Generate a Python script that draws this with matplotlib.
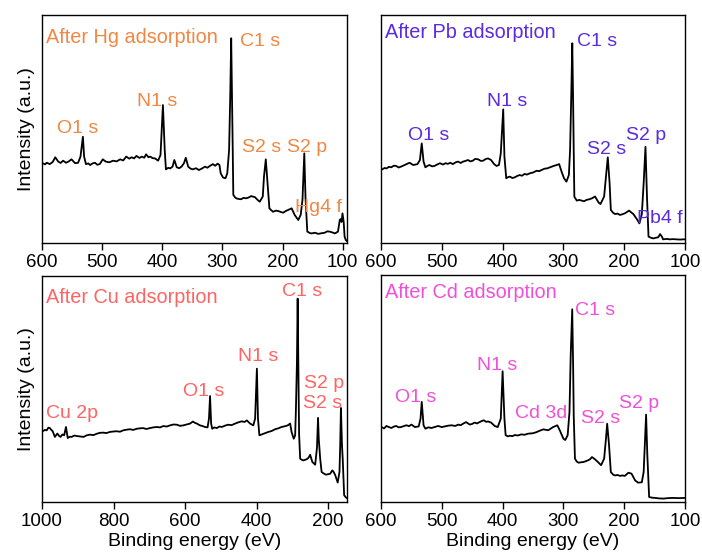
import matplotlib
matplotlib.use("Agg")
import matplotlib.pyplot as plt

plt.rcParams["font.family"] = ["Liberation Sans", "DejaVu Sans"]

# XPS survey spectra (binding energy in eV, intensity in a.u.)
hg_ev = [599, 595, 592, 587, 582, 578, 573, 569, 565, 560, 556, 551, 545, 540, 536, 532, 530, 527, 523, 520,
         516, 512, 508, 504, 499, 494, 488, 482, 476, 470, 465, 460, 455, 451, 447, 443, 438, 434, 430, 427,
         423, 420, 416, 412, 407, 403, 399, 396, 394, 390, 387, 383, 380, 376, 372, 368, 364, 361, 357, 353,
         349, 344, 339, 334, 329, 325, 321, 316, 312, 308, 305, 303, 299, 295, 292, 289, 287, 285.5, 284, 283,
         282, 279, 277, 273, 269, 265, 261, 257, 252, 249, 246, 242, 238, 233, 231, 228, 225, 222, 219,
         216, 211, 207, 203, 199, 195, 191, 185, 180, 174, 170, 167, 164, 162, 159, 155, 152, 146, 141, 135,
         130, 126, 122, 117, 113, 108, 105, 103.5, 102, 100.5, 98.5, 97, 95, 93]
hg_int = [35.0, 34.5, 35.2, 34.6, 35.6, 37.6, 35.7, 35.1, 36.1, 35.2, 35.7, 36.7, 35.0, 35.2, 37.9, 46.6, 37.9, 34.6, 34.9, 34.2,
          34.9, 35.2, 34.3, 34.6, 36.7, 35.7, 35.4, 36.1, 35.8, 36.7, 36.2, 37.9, 37.0, 37.6, 37.1, 38.2, 37.3, 37.9, 37.4, 38.9,
          37.6, 37.9, 37.2, 37.1, 36.1, 38.6, 60.5, 40.8, 32.3, 33.0, 32.7, 33.5, 36.4, 33.2, 32.8, 33.5, 35.0, 37.4, 33.5, 32.6,
          32.3, 32.8, 32.0, 32.7, 33.5, 33.0, 33.8, 34.6, 33.9, 34.8, 34.2, 30.6, 28.7, 28.4, 30.6, 40.8, 65.6, 89.8, 62.0, 42.0,
          21.1, 20.0, 19.6, 19.3, 19.2, 19.8, 19.6, 19.9, 20.6, 20.3, 20.1, 19.0, 18.1, 20.4, 29.1, 36.7, 26.2, 15.2, 14.4,
          13.7, 14.2, 14.0, 13.6, 13.3, 14.0, 14.5, 15.2, 12.3, 10.1, 12.3, 18.9, 39.3, 20.0, 5.0, 4.4, 4.2, 4.5, 4.0, 4.3,
          4.5, 5.1, 5.0, 4.6, 4.2, 5.0, 10.1, 10.5, 9.2, 13.0, 9.2, 2.8, 1.3, 0.8]

pb_ev = [598, 594, 591, 587, 583, 579, 575, 571, 567, 562, 558, 553, 547, 540, 536, 533, 530, 527, 523, 520,
         516, 512, 507, 503, 498, 494, 490, 486, 482, 477, 473, 469, 465, 461, 457, 453, 449, 445, 440, 436,
         432, 428, 424, 419, 414, 410, 406, 403, 399, 397, 394, 391, 388, 384, 380, 376, 372, 368, 364, 360,
         355, 350, 344, 340, 336, 331, 327, 323, 319, 315, 311, 307, 303, 299, 295, 291, 289, 287, 285.4, 284,
         283, 282, 278, 274, 270, 266, 262, 257, 253, 248, 242, 239, 233, 230, 227, 224, 222, 218, 215, 211,
         207, 203, 199, 192, 185, 179, 175, 171, 168, 165, 162.5, 160, 156, 152, 148, 144, 141, 138, 136, 130,
         125, 120, 114, 108, 103, 100]
pb_int = [32.3, 32.9, 32.7, 33.4, 33.2, 33.9, 33.8, 33.1, 33.5, 34.1, 34.6, 35.2, 34.2, 34.6, 36.4, 43.7, 35.7, 33.2, 33.9, 34.2,
          33.6, 33.8, 34.5, 35.0, 34.4, 35.0, 34.7, 35.2, 34.6, 35.4, 35.7, 35.1, 35.7, 36.0, 36.4, 35.8, 36.1, 36.9, 36.7, 36.0,
          36.1, 36.8, 37.1, 36.4, 34.6, 33.8, 34.2, 39.3, 58.6, 37.9, 28.4, 28.9, 29.1, 28.5, 28.8, 29.4, 29.8, 29.5, 30.3, 30.0,
          30.6, 30.9, 31.7, 31.5, 32.0, 32.6, 32.7, 33.1, 33.5, 33.9, 34.2, 34.6, 31.3, 28.4, 26.9, 29.8, 40.8, 65.6, 87.6, 62.0,
          40.0, 20.3, 18.6, 18.9, 18.6, 18.3, 18.9, 19.2, 19.6, 20.4, 17.7, 17.1, 20.4, 29.1, 37.6, 26.2, 14.5, 13.2, 12.7, 12.9,
          12.3, 12.6, 13.0, 14.2, 12.7, 10.4, 8.6, 12.7, 26.2, 42.2, 20.0, 2.8, 2.3, 2.0, 2.3, 2.5, 3.9, 2.8, 1.6, 1.8,
          1.6, 1.7, 1.6, 1.5, 1.6, 1.6]

cu_ev = [998, 992, 987, 982, 978, 974, 970, 964, 957, 952, 948, 943, 938, 933, 928, 922, 917, 910, 903, 894,
         884, 875, 866, 856, 847, 838, 829, 820, 810, 800, 791, 782, 773, 763, 754, 745, 735, 726, 717, 708,
         698, 689, 679, 670, 661, 651, 642, 632, 623, 614, 605, 595, 586, 578, 572, 567, 558, 551, 544, 537,
         533, 530, 527, 524, 518, 511, 504, 497, 488, 479, 470, 460, 450, 441, 434, 427, 418, 409, 404, 399,
         396, 392, 387, 381, 374, 367, 358, 348, 339, 330, 321, 313, 306, 302, 296, 292, 290, 287, 285, 283,
         281, 278, 274, 269, 265, 260, 255, 250, 244, 236, 231, 228, 226, 222, 218, 212, 206, 200, 194, 188,
         184, 180, 173, 168, 166, 164, 161, 159, 155, 150, 148]
cu_int = [31.3, 31.9, 31.7, 32.9, 32.7, 31.9, 31.3, 28.8, 30.3, 29.2, 28.8, 29.9, 29.5, 33.2, 28.3, 28.9, 28.8, 29.4, 29.2, 29.0,
          28.8, 29.5, 29.8, 29.6, 30.2, 30.6, 30.7, 30.5, 31.0, 31.2, 31.3, 31.1, 31.7, 32.0, 32.2, 31.9, 32.4, 32.6, 32.7, 32.3,
          32.7, 33.0, 33.2, 33.0, 33.6, 33.4, 33.9, 34.3, 34.2, 33.7, 33.9, 34.3, 34.7, 35.6, 35.0, 34.7, 33.9, 33.6, 33.2, 33.0,
          36.9, 46.9, 34.7, 32.4, 33.0, 32.7, 33.4, 33.2, 33.8, 34.2, 34.0, 34.7, 35.3, 35.7, 35.4, 36.1, 34.7, 33.9, 36.9, 59.0,
          36.9, 29.5, 29.8, 30.2, 30.6, 31.0, 31.4, 32.2, 32.6, 33.2, 33.5, 33.9, 34.7, 31.0, 28.0, 29.5, 40.0, 62.0, 90.0, 60.0,
          30.0, 19.2, 18.7, 18.4, 18.6, 18.9, 19.5, 20.9, 17.7, 16.5, 24.0, 37.2, 28.0, 19.2, 13.3, 12.6, 12.1, 12.3, 12.5, 14.0,
          13.2, 11.9, 8.6, 13.3, 25.0, 41.6, 25.0, 19.2, 3.0, 2.0, 1.8]

cd_ev = [599, 595, 591, 587, 583, 579, 575, 571, 567, 562, 558, 554, 550, 544, 538, 535, 533, 530, 527, 522,
         517, 512, 506, 500, 495, 490, 484, 478, 473, 469, 465, 460, 454, 450, 446, 442, 438, 434, 431, 427,
         424, 419, 413, 408, 403, 400, 397, 395, 391, 388, 384, 380, 375, 369, 364, 358, 350, 344, 338, 333,
         325, 317, 310, 306, 300, 297, 293, 290, 288, 285.5, 284, 283, 281, 278, 275, 271, 267, 263, 259, 256,
         253, 248, 242, 238, 233, 230, 228, 225, 222, 218, 215, 211, 207, 203, 199, 193, 188, 182, 177, 171,
         168, 164, 162, 159, 154, 149, 143, 136, 128, 120, 110, 100]
cd_int = [33.0, 32.4, 33.5, 33.0, 32.6, 33.2, 33.5, 32.9, 33.0, 33.5, 33.8, 33.4, 34.1, 33.0, 33.3, 36.7, 44.1, 33.8, 32.3, 32.9,
          32.6, 33.0, 33.5, 33.0, 33.3, 33.6, 33.8, 33.5, 34.1, 33.8, 34.5, 35.2, 34.1, 34.4, 35.0, 34.6, 35.2, 35.7, 36.0, 35.3,
          35.5, 35.0, 33.5, 33.0, 36.7, 57.6, 36.7, 29.4, 28.9, 29.2, 29.0, 29.5, 29.3, 29.8, 29.6, 30.1, 30.3, 30.8, 31.5, 32.0,
          31.6, 33.0, 33.8, 31.6, 27.9, 27.3, 29.4, 39.6, 64.6, 84.9, 60.0, 38.0, 19.1, 17.8, 17.3, 17.5, 17.6, 18.0, 18.4, 18.9,
          19.8, 18.8, 17.3, 16.2, 19.1, 27.9, 34.5, 25.3, 13.2, 12.0, 11.7, 11.9, 11.5, 11.7, 11.5, 12.9, 12.5, 9.5, 8.5, 8.7,
          13.2, 38.5, 21.0, 2.2, 1.9, 1.8, 1.6, 1.5, 1.7, 1.8, 1.7, 1.8]

# peak assignments: (text, binding energy, height)
hg_labels = [("O1 s", 575, 48.1), ("N1 s", 442, 60.1), ("C1 s", 271, 86.5),
             ("S2 s", 268, 40.0), ("S2 p", 193, 40.0), ("Hg4 f", 180, 13.7)]
pb_labels = [("O1 s", 556, 45.2), ("N1 s", 426, 60.1), ("C1 s", 278, 86.5),
             ("S2 s", 261, 38.9), ("S2 p", 197, 45.2), ("Pb4 f", 179, 8.9)]
cu_labels = [("Cu 2p", 990, 37.0), ("O1 s", 606, 46.9), ("N1 s", 452, 62.5),
             ("C1 s", 329, 91.2), ("S2 p", 267, 50.3), ("S2 s", 270, 41.7)]
cd_labels = [("O1 s", 577, 44.2), ("N1 s", 442, 58.1), ("Cd 3d", 380, 36.9),
             ("C1 s", 281, 82.4), ("S2 s", 271, 34.9), ("S2 p", 209, 41.3)]

W, H = 702, 554
fig = plt.figure(figsize=(W / 100, H / 100), dpi=100)


def rect(l, t, r, b):
    # pixel box (left, top, right, bottom) -> figure fraction
    return [l / W, 1 - b / H, (r - l) / W, (b - t) / H]


def panel(box, ev, inten, labels, title, title_y, color, xlim, xticks, ylab, xlab):
    ax = fig.add_axes(rect(*box))
    ax.plot(ev, inten, color="black", lw=1.3)
    ax.set_xlim(*xlim)
    ax.set_ylim(0, 100)
    ax.set_xticks(xticks)
    ax.set_yticks([])
    ax.tick_params(axis="x", direction="out", length=5, width=1, pad=3, labelsize=13.5)
    for s in ax.spines.values():
        s.set_linewidth(1.0)
    ax.text(0.014, title_y, title, transform=ax.transAxes,
            color=color, fontsize=14.3, va="baseline", ha="left")
    for txt, x, y in labels:
        ax.text(x, y, txt, color=color, fontsize=14, va="baseline", ha="left")
    if ylab:
        ax.set_ylabel("Intensity (a.u.)", fontsize=14, labelpad=5)
    if xlab:
        ax.set_xlabel("Binding energy (eV)", fontsize=14, labelpad=2)
    return ax


panel((42, 15, 347, 243), hg_ev, hg_int, hg_labels, "After Hg adsorption", 0.877, "#EE8844",
      (600, 93), [600, 500, 400, 300, 200, 100], True, False)
panel((381, 15, 685, 243), pb_ev, pb_int, pb_labels, "After Pb adsorption", 0.90, "#5A2BE0",
      (600, 100), [600, 500, 400, 300, 200, 100], False, False)
panel((42, 276, 347, 502), cu_ev, cu_int, cu_labels, "After Cu adsorption", 0.882, "#FF6464",
      (1000, 147), [1000, 800, 600, 400, 200], True, True)
panel((381, 275, 685, 502), cd_ev, cd_int, cd_labels, "After Cd adsorption", 0.897, "#F050D8",
      (600, 100), [600, 500, 400, 300, 200, 100], False, True)

fig.savefig("out.png", dpi=100)
